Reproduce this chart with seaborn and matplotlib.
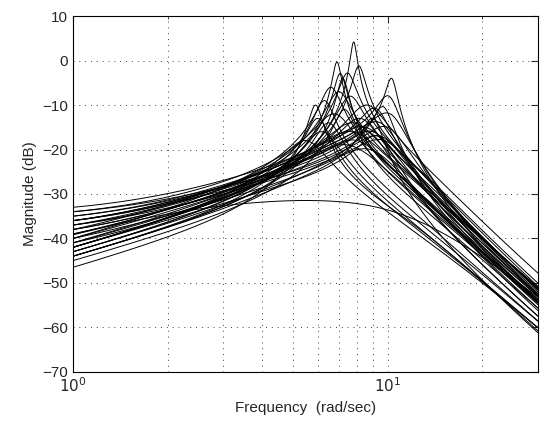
import numpy as np
import pandas as pd
import matplotlib.pyplot as plt
import seaborn as sns

# per-curve values: frequency of the first mode (rad/s),
# magnitude there (dB), magnitude at 1 rad/s (dB), numerator zero (rad/s),
# and the second mode (freq, damping)
mode1_freq = [7.8, 6.9, 8.1, 7.07, 7.45, 7.2, 5.9, 6.3, 6.6, 7.0, 7.6, 6.8,
              10.3, 10.1, 9.7, 9.2, 9.0, 9.5, 10.0, 8.7, 9.3, 10.2,
              8.5, 9.0, 8.0, 9.5, 7.5, 8.8, 7.8, 8.2, 6.2, 6.5, 7.3, 5.5, 6.0, 8.6, 9.8, 7.7,
              7.2]
mode1_db = [4.2, -0.3, -1.2, -2.9, -2.8, -4.0, -10, -9, -6, -7, -8, -12,
            -4, -8, -10.4, -10.8, -13, -14, -15, -16, -17, -12,
            -15, -16, -18, -17, -19, -20, -14, -13, -16, -14, -11, -18, -13, -10, -18, -16,
            -31.8]
start_db = [-42, -43, -42, -42, -37, -44, -46.5, -42, -40, -36, -41, -34,
            -41, -38, -43, -36, -44, -35, -40, -37, -42, -39,
            -33, -34, -35, -36, -38, -40, -39, -41, -43, -44, -45, -42, -44, -38, -37, -36,
            -39.2]
zero_freq = [0, 0, 0, 0, 1.1, 0, 0, 0, 0, 1.3, 0.6, 1.5,
             0, 0.6, 0, 1.1, 0, 1.3, 0.3, 0.9, 0, 0.6,
             1.5, 1.5, 1.3, 1.1, 0.9, 0.6, 0.6, 0.3, 0, 0, 0, 0, 0, 0.9, 1.1, 1.1,
             0]
mode2_freq = [12, 11, 11, 11, 12, 12, 12, 10, 11, 12, 12, 10,
              7, 7, 7.5, 7, 6.5, 7, 8, 6.5, 7, 7.5,
              9, 8, 9, 8, 10, 9, 11, 10, 10, 11, 12, 11, 11, 12, 8, 11,
              10.8]
mode2_damp = [0.5, 0.5, 0.5, 0.6, 0.5, 0.6, 0.6, 0.7, 0.6, 0.6, 0.5, 0.8,
              0.5, 0.5, 0.6, 0.6, 0.6, 0.6, 0.7, 0.7, 0.8, 0.5,
              0.8, 0.9, 0.9, 0.9, 0.8, 0.9, 0.7, 0.7, 0.8, 0.8, 0.7, 0.9, 0.8, 0.6, 0.8, 0.8,
              0.7]

w = np.logspace(0, np.log10(30), 700)
s = 1j * w

frames = []
for i in range(len(mode1_freq)):
    w1, w2, z2, z0 = mode1_freq[i], mode2_freq[i], mode2_damp[i], zero_freq[i]
    d2 = lambda x: abs(w2**2 - x**2 + 2j * z2 * w2 * x)
    r = abs(1j * w1 + z0) / abs(1j + z0) * d2(1.0) / d2(w1)
    q = 10 ** ((mode1_db[i] - start_db[i]) / 20) / r
    z1 = (w1**2 - 1) / (2 * w1 * np.sqrt(q**2 * w1**2 - 1))
    G = (s + z0) / ((s**2 + 2 * z1 * w1 * s + w1**2) * (s**2 + 2 * z2 * w2 * s + w2**2))
    G1 = (1j + z0) / ((w1**2 - 1 + 2j * z1 * w1) * (w2**2 - 1 + 2j * z2 * w2))
    mag = 20 * np.log10(np.abs(G) / np.abs(G1)) + start_db[i]
    frames.append(pd.DataFrame({"freq": w, "mag": mag, "curve": i}))
df = pd.concat(frames, ignore_index=True)

sns.set_style("white")
plt.rcParams["font.family"] = ["Liberation Sans", "DejaVu Sans"]
plt.rcParams["font.size"] = 11

fig = plt.figure(figsize=(5.4, 4.24), dpi=100)
ax = fig.add_axes([0.135, 0.123, 0.861, 0.839])
sns.lineplot(data=df, x="freq", y="mag", units="curve", estimator=None,
             color="black", lw=0.7, ax=ax, legend=False)
ax.set_xscale("log")
ax.set_xlim(1, 30)
ax.set_ylim(-70, 10)
ax.set_yticks(range(-70, 11, 10))
ax.set_xticks([1, 10])
ax.set_xticks([2, 3, 4, 5, 6, 7, 8, 9, 20, 30], minor=True)
ax.set_xticklabels([r"$10^0$", r"$10^1$"])
ax.tick_params(which="both", direction="in", top=True, right=True, labelsize=11)
ax.tick_params(which="major", length=5)
ax.tick_params(which="minor", labelbottom=False, length=2.5)
grid_kw = dict(ls=(0, (1, 5)), color="0.25", lw=0.7)
ax.grid(True, which="both", axis="x", **grid_kw)
ax.grid(True, which="major", axis="y", **grid_kw)
for sp in ax.spines.values():
    sp.set_color("black")
    sp.set_linewidth(0.8)
ax.set_xlabel("Frequency  (rad/sec)", fontsize=11)
ax.set_ylabel("Magnitude (dB)", fontsize=11)
fig.savefig("out.png", dpi=100)
